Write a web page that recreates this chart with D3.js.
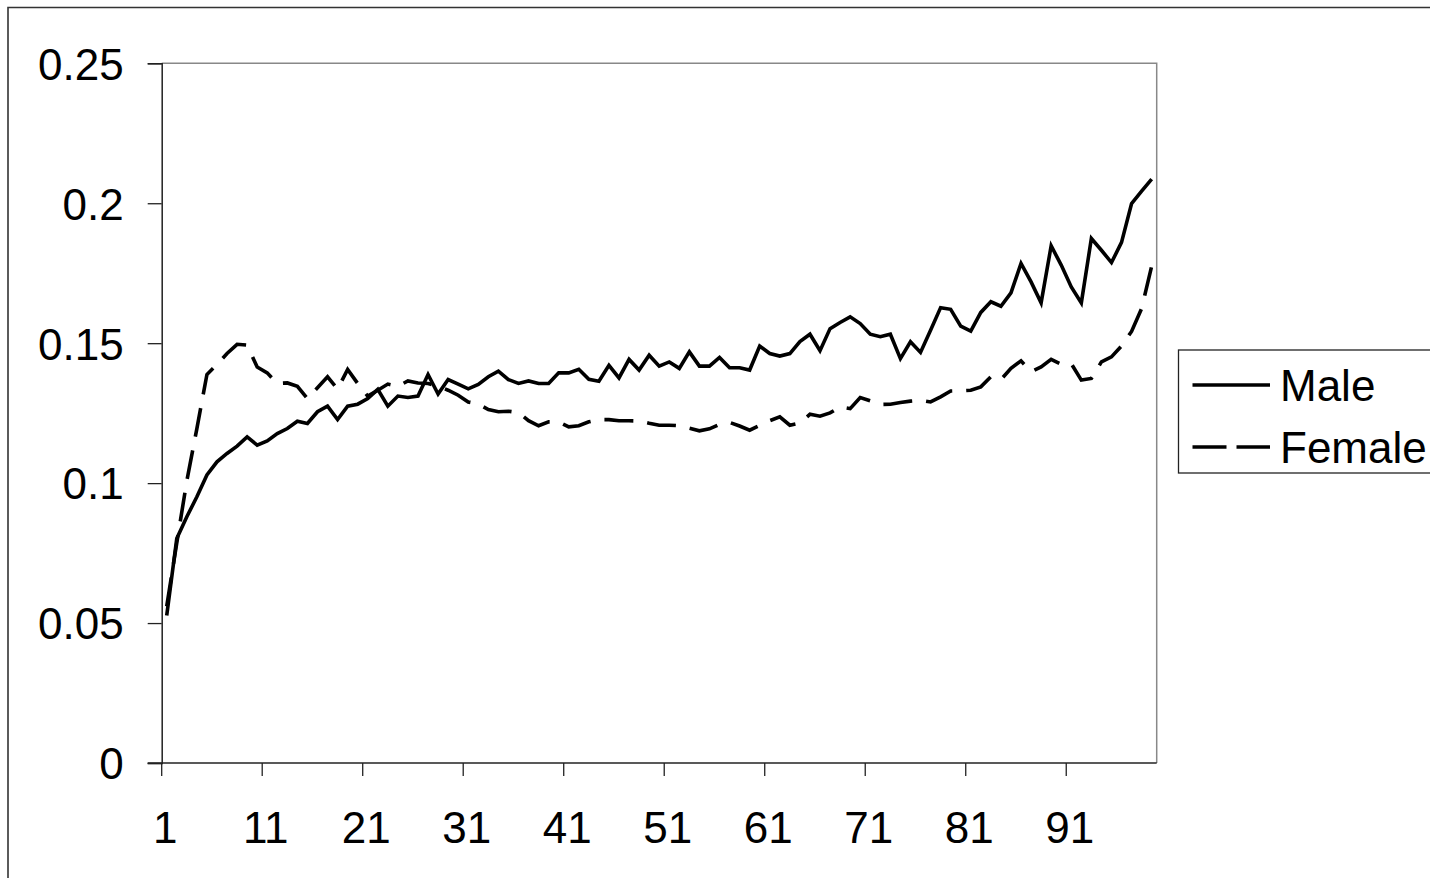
<!DOCTYPE html>
<html>
<head>
<meta charset="utf-8">
<script src="https://cdn.jsdelivr.net/npm/d3@7"></script>
<style>
  body { margin: 0; background: #fff; }
  svg { display: block; font-family: Arial, "Liberation Sans", sans-serif; }
  .tick-label { font-size: 44px; fill: #000; }
  .legend-label { font-size: 44px; fill: #000; }
</style>
</head>
<body>
<svg id="chart" width="1430" height="878"></svg>
<script>
// ages 1..99
const ages = d3.range(1, 100);
const xTickLabels = [1, 11, 21, 31, 41, 51, 61, 71, 81, 91];
const yTickValues = [0, 0.05, 0.1, 0.15, 0.2, 0.25];
const seriesNames = ['Male', 'Female'];

const male = [
  0.0527, 0.0802, 0.0880, 0.0951, 0.1029, 0.1076, 0.1106, 0.1132, 0.1165, 0.1136,
  0.1151, 0.1177, 0.1195, 0.1221, 0.1213, 0.1255, 0.1275, 0.1227, 0.1275, 0.1282,
  0.1302, 0.1335, 0.1275, 0.1311, 0.1306, 0.1311, 0.1388, 0.1318, 0.1370, 0.1354,
  0.1337, 0.1353, 0.1380, 0.1400, 0.1370, 0.1356, 0.1365, 0.1356, 0.1356, 0.1394,
  0.1394, 0.1407, 0.1371, 0.1364, 0.1421, 0.1376, 0.1442, 0.1404, 0.1457, 0.1418,
  0.1433, 0.1410, 0.1469, 0.1418, 0.1418, 0.1449, 0.1412, 0.1412, 0.1404, 0.1490,
  0.1463, 0.1454, 0.1463, 0.1506, 0.1532, 0.1473, 0.1552, 0.1574, 0.1594, 0.1570,
  0.1532, 0.1523, 0.1532, 0.1445, 0.1505, 0.1467, 0.1546, 0.1627, 0.1621, 0.1561,
  0.1543, 0.1610, 0.1648, 0.1632, 0.1680, 0.1785, 0.1719, 0.1644, 0.1848, 0.1779,
  0.1701, 0.1644, 0.1874, 0.1832, 0.1788, 0.1860, 0.1999, 0.2043, 0.2086
];

const female = [
  0.0560, 0.0786, 0.1008, 0.1195, 0.1388, 0.1424, 0.1463, 0.1496, 0.1493, 0.1415,
  0.1394, 0.1356, 0.1358, 0.1346, 0.1302, 0.1341, 0.1380, 0.1336, 0.1406, 0.1356,
  0.1311, 0.1332, 0.1354, 0.1346, 0.1365, 0.1358, 0.1356, 0.1346, 0.1332, 0.1314,
  0.1290, 0.1283, 0.1263, 0.1255, 0.1257, 0.1252, 0.1223, 0.1205, 0.1219, 0.1219,
  0.1201, 0.1205, 0.1219, 0.1227, 0.1227, 0.1223, 0.1223, 0.1222, 0.1214, 0.1207,
  0.1207, 0.1205, 0.1196, 0.1187, 0.1194, 0.1210, 0.1217, 0.1204, 0.1189, 0.1206,
  0.1223, 0.1237, 0.1207, 0.1215, 0.1246, 0.1239, 0.1251, 0.1272, 0.1266, 0.1306,
  0.1294, 0.1281, 0.1282, 0.1288, 0.1293, 0.1296, 0.1290, 0.1308, 0.1329, 0.1330,
  0.1332, 0.1344, 0.1380, 0.1370, 0.1410, 0.1437, 0.1398, 0.1415, 0.1442, 0.1425,
  0.1427, 0.1368, 0.1374, 0.1433, 0.1451, 0.1490, 0.1542, 0.1624, 0.1775
];

const svg = d3.select('#chart');

// plot box (excel style category axis)
const plot = {left: 161.7, right: 1156.7, top: 63.3, bottom: 763};

const x = d3.scaleBand().domain(ages).range([plot.left, plot.right]).padding(0);
const y = d3.scaleLinear().domain([0, 0.25]).range([plot.bottom, plot.top]);
const xc = (age) => x(age) + x.bandwidth() / 2;

// outer chart frame (only top + left visible in the picture)
svg.append('path')
  .attr('d', 'M8,878 L8,7.5 L1430,7.5')
  .attr('fill', 'none').attr('stroke', '#333').attr('stroke-width', 1.6);

// plot area border (top + right, grey)
svg.append('path')
  .attr('d', `M${plot.left},${plot.top} L${plot.right},${plot.top} L${plot.right},${plot.bottom}`)
  .attr('fill', 'none').attr('stroke', '#888').attr('stroke-width', 1.5);

// y axis
const yAxis = svg.append('g').attr('transform', `translate(${plot.left},0)`)
  .call(d3.axisLeft(y).tickValues(yTickValues).tickSize(14).tickPadding(24)
    .tickFormat(d => d3.format('~g')(d)));
yAxis.attr('font-size', null).attr('font-family', null);
yAxis.select('.domain').attr('stroke', '#222').attr('stroke-width', 1.5);
yAxis.selectAll('.tick line').attr('stroke', '#222').attr('stroke-width', 1.3);
yAxis.selectAll('.tick text').attr('class', 'tick-label').attr('dy', '0.36em');

// x axis: tick marks on category boundaries, labels under category
const xAxisG = svg.append('g');
xAxisG.append('line')
  .attr('x1', plot.left - 14).attr('x2', plot.right)
  .attr('y1', plot.bottom).attr('y2', plot.bottom)
  .attr('stroke', '#222').attr('stroke-width', 1.5);
xAxisG.selectAll('line.xtick').data(xTickLabels).enter().append('line')
  .attr('class', 'xtick')
  .attr('x1', d => x(d)).attr('x2', d => x(d))
  .attr('y1', plot.bottom).attr('y2', plot.bottom + 13)
  .attr('stroke', '#222').attr('stroke-width', 1.3);
xAxisG.selectAll('text').data(xTickLabels).enter().append('text')
  .attr('class', 'tick-label')
  .attr('x', d => xc(d) - 1.5)
  .attr('y', 843)
  .attr('text-anchor', 'middle')
  .text(d => d);

// the two series
const line = d3.line().x((d, i) => xc(ages[i])).y(d => y(d));

svg.append('path').datum(male)
  .attr('d', line)
  .attr('fill', 'none').attr('stroke', '#000').attr('stroke-width', 3.6);

svg.append('path').datum(female)
  .attr('d', line)
  .attr('fill', 'none').attr('stroke', '#000').attr('stroke-width', 3.6)
  .attr('stroke-dasharray', '29,14');

// legend
const legend = svg.append('g');
legend.append('rect')
  .attr('x', 1178.5).attr('y', 350).attr('width', 260).attr('height', 123)
  .attr('fill', '#fff').attr('stroke', '#222').attr('stroke-width', 1.3);

const legendRows = [
  {name: seriesNames[0], y: 385, dash: null},
  {name: seriesNames[1], y: 447, dash: '34,10'}
];
legendRows.forEach((r) => {
  legend.append('line')
    .attr('x1', 1192.5).attr('x2', 1270).attr('y1', r.y).attr('y2', r.y)
    .attr('stroke', '#000').attr('stroke-width', 3.6)
    .attr('stroke-dasharray', r.dash);
  legend.append('text').attr('class', 'legend-label')
    .attr('x', 1280).attr('y', r.y + 16)
    .text(r.name);
});
</script>
</body>
</html>
